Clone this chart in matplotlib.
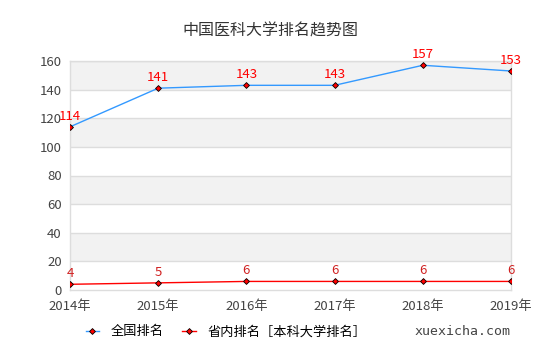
import matplotlib.pyplot as plt
from matplotlib.lines import Line2D

plt.rcParams['font.family'] = ['Noto Sans CJK SC', 'DejaVu Sans']

# --- Данные ---
years = ["2014年", "2015年", "2016年", "2017年", "2018年", "2019年"]
national_rank = [114, 141, 143, 143, 157, 153]
province_rank = [4, 5, 6, 6, 6, 6]
title = "中国医科大学排名趋势图"
legend_labels = ["全国排名", "省内排名［本科大学排名］"]

fig = plt.figure(figsize=(5.4, 3.6), dpi=100)
ax = fig.add_axes([0.1296, 0.1944, 0.8167, 0.6362])

x = list(range(len(years)))

# чередующиеся полосы фона
for lo in range(20, 160, 40):
    ax.axhspan(lo, lo + 20, color="#f2f2f2", zorder=0, lw=0)
for yv in range(20, 161, 20):
    ax.axhline(yv, color="#dddddd", lw=1, zorder=1)

ax.plot(x, national_rank, color="#3399ff", lw=1, marker="D", ms=3,
        mfc="red", mec="black", mew=0.6, zorder=3)
ax.plot(x, province_rank, color="red", lw=1, marker="D", ms=3,
        mfc="red", mec="black", mew=0.6, zorder=3)

for xi, v in zip(x, national_rank):
    ax.text(xi, v + 3, str(v), color="red", fontsize=9.5, ha="center", va="bottom", zorder=4)
for xi, v in zip(x, province_rank):
    ax.text(xi, v + 3, str(v), color="#d02020", fontsize=9.5, ha="center", va="bottom", zorder=4)

ax.set_xlim(0, len(years) - 1)
ax.set_ylim(0, 160)
ax.set_xticks(x)
ax.set_xticklabels(years)
ax.set_yticks(range(0, 161, 20))
ax.tick_params(axis="both", length=0, labelsize=9.5, colors="#444444")
ax.tick_params(axis="x", pad=7)
ax.tick_params(axis="y", pad=6)

for side in ["left", "right", "bottom", "top"]:
    ax.spines[side].set_color("#dddddd")
    ax.spines[side].set_linewidth(1)

fig.text(0.5, 0.915, title, ha="center", va="center", fontsize=11.5, color="#333333")

handles = [
    Line2D([], [], color="#3399ff", lw=1, marker="D", ms=3, mfc="red", mec="black", mew=0.6),
    Line2D([], [], color="red", lw=1, marker="D", ms=3, mfc="red", mec="black", mew=0.6),
]
fig.legend(handles, legend_labels, loc="center left", bbox_to_anchor=(0.137, 0.078),
           ncol=2, frameon=False, fontsize=9.5, handlelength=1.0, handletextpad=0.9,
           columnspacing=1.4)

fig.text(0.945, 0.078, "xuexicha.com", ha="right", va="center", fontsize=9.5,
         color="#444444", family="DejaVu Sans Mono")

fig.savefig("out.png", dpi=100)
